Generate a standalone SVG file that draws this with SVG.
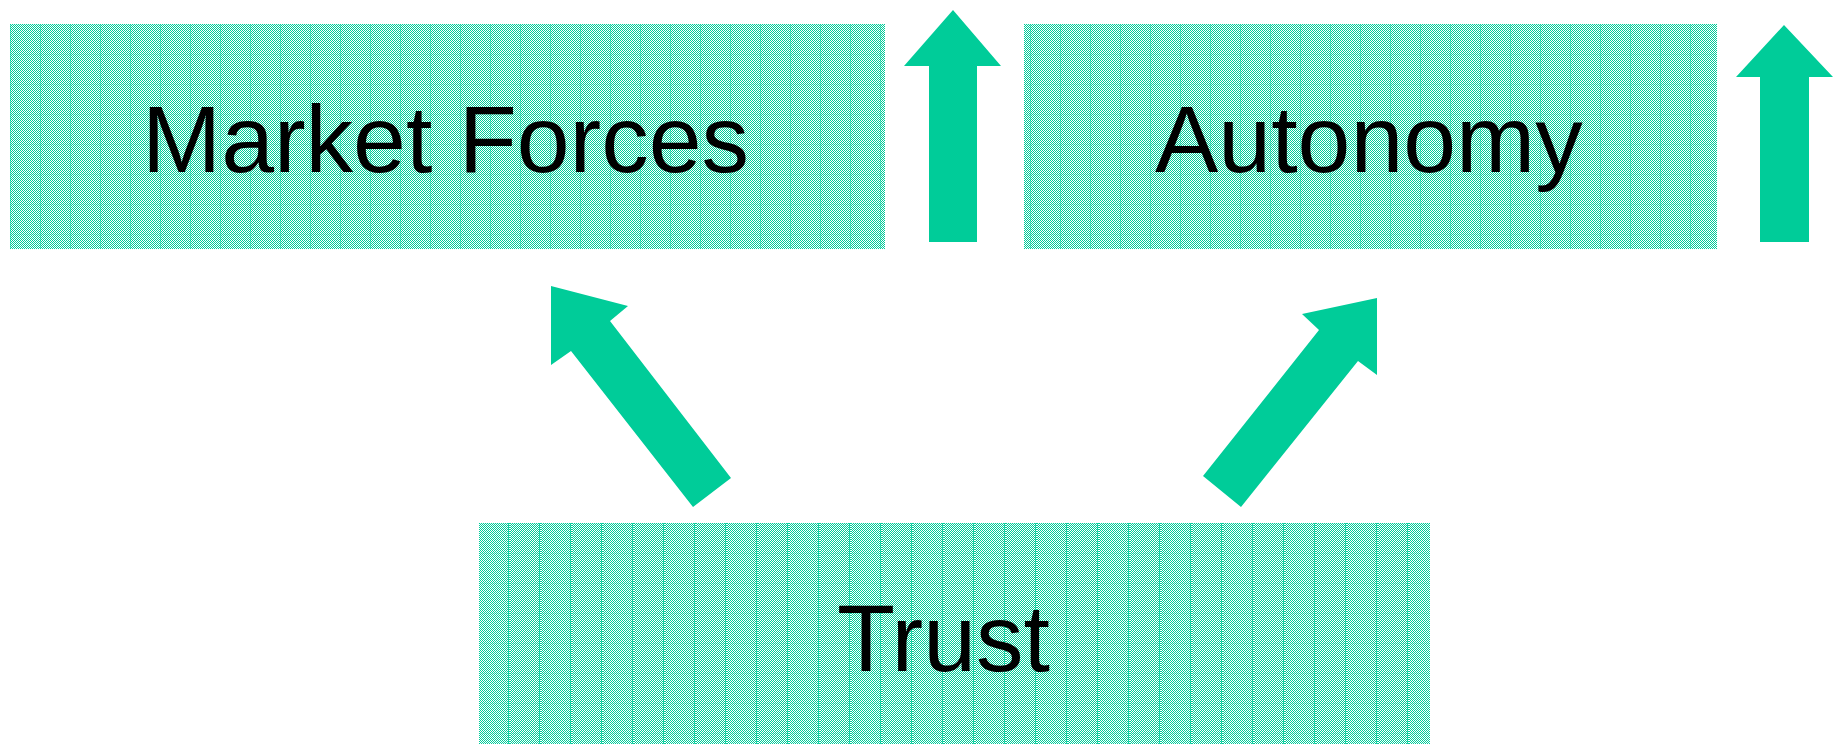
<svg xmlns="http://www.w3.org/2000/svg" width="1836" height="744" viewBox="0 0 1836 744">
  <defs>
    <pattern id="checker" x="0" y="0" width="2" height="2" patternUnits="userSpaceOnUse">
      <rect x="0" y="0" width="2" height="2" fill="#ffffff"/>
      <rect x="0" y="0" width="1" height="1" fill="#00CC99"/>
      <rect x="1" y="1" width="1" height="1" fill="#00CC99"/>
    </pattern>
    <pattern id="grid" x="10" y="24" width="30" height="30" patternUnits="userSpaceOnUse">
      <rect x="0" y="0" width="30" height="30" fill="url(#checker)"/>
      <rect x="0" y="0" width="1" height="30" fill="#00CC99" opacity="0.45"/>
      <rect x="0" y="0" width="30" height="1" fill="#00CC99" opacity="0.15"/>
    </pattern>
    <pattern id="grid2" x="479" y="523" width="31" height="30" patternUnits="userSpaceOnUse">
      <rect x="0" y="0" width="31" height="30" fill="url(#checker)"/>
      <rect x="29" y="0" width="1" height="30" fill="#00CC99" opacity="0.8"/>
      <rect x="0" y="0" width="31" height="1" fill="#00CC99" opacity="0.15"/>
    </pattern>
    <style>
      .box { stroke: none; }
      .label { font-family: "Liberation Sans", Arial, sans-serif; font-size: 95px; fill: #000000; }
      .arrow { fill: #00CC99; stroke: none; }
    </style>
  </defs>

  <g id="node-market-forces">
    <rect class="box" x="10" y="24" width="875" height="225" fill="url(#grid)"/>
    <text class="label" x="142" y="172">Market Forces</text>
  </g>

  <g id="node-autonomy">
    <rect class="box" x="1024" y="24" width="693" height="225" fill="url(#grid)"/>
    <text class="label" x="1155" y="172">Autonomy</text>
  </g>

  <g id="node-trust">
    <rect class="box" x="479" y="523" width="951" height="221" fill="url(#grid2)"/>
    <text class="label" x="837" y="671">Trust</text>
  </g>

  <g id="connectors">
    <polygon class="arrow" points="953,10 1001,66 977,66 977,242 929,242 929,66 904,66"/>
    <polygon class="arrow" points="1784,25 1833,77 1809,77 1809,242 1760,242 1760,77 1736,77"/>
    <polygon class="arrow" points="551,286 628,306 610,321 731,478 693,507 571,351 551,365"/>
    <polygon class="arrow" points="1377,298 1377,375 1358,361 1241,507 1203,476 1319,330 1302,314"/>
  </g>
</svg>
